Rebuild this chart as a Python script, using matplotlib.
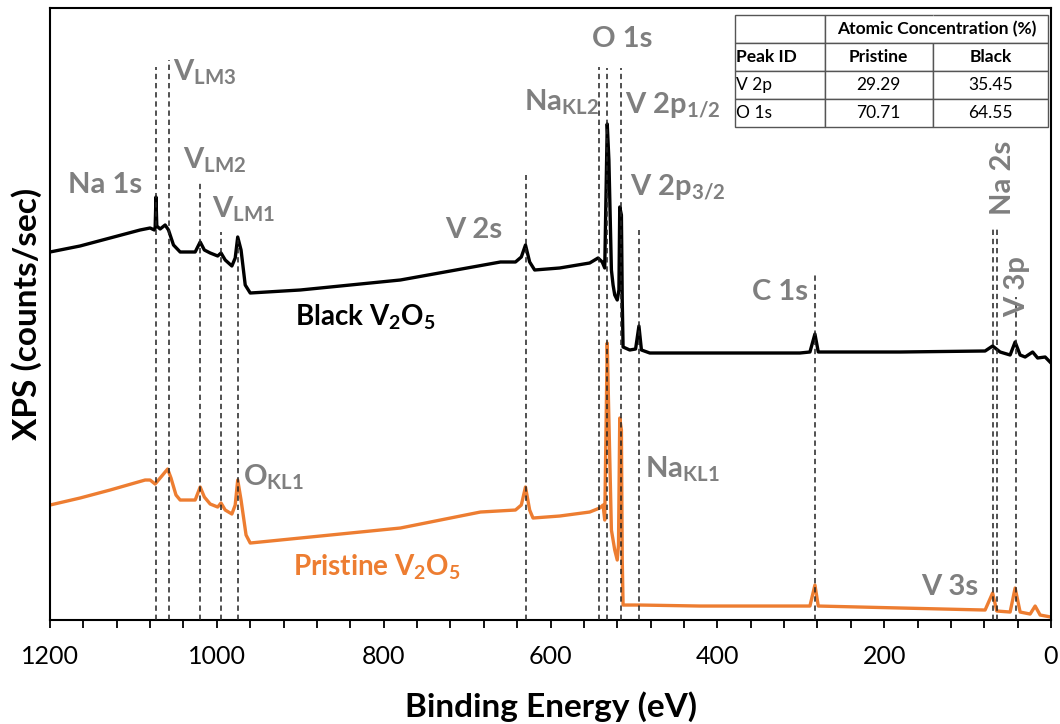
import matplotlib
matplotlib.use("Agg")
import matplotlib.pyplot as plt
from matplotlib.ticker import MultipleLocator

plt.rcParams['font.family'] = ['Lato', 'DejaVu Sans']
plt.rcParams['mathtext.fontset'] = 'custom'
plt.rcParams['mathtext.rm'] = 'Lato'

# spectra (binding energy in eV, intensity in arbitrary counts)
black_energy = [1200, 1164, 1128, 1092, 1080, 1075, 1074, 1073, 1072, 1068, 1062, 1058, 1052, 1044,
                1026, 1020, 1015, 1008, 999, 995, 990, 982, 978, 975, 971, 966, 960, 900, 780, 660,
                642, 635, 630, 625, 619, 589, 553, 543, 538, 535, 532, 530, 527, 525, 523, 520, 518,
                517, 515, 514, 513, 505, 498, 494, 491, 481, 301, 289, 283, 279, 181, 79, 70, 61, 49,
                43, 37, 31, 22, 16, 7, 0]
black_counts = [368, 374, 382, 390, 392, 390, 392, 423, 394, 391, 395, 390, 375, 368,
                368, 378, 370, 367, 364, 367, 360, 354, 362, 383, 370, 335, 327, 330, 340, 358,
                358, 363, 375, 358, 350, 352, 357, 362, 358, 352, 496, 460, 350, 335, 325, 320, 330,
                413, 405, 320, 273, 270, 271, 294, 270, 267, 267, 268, 286, 268, 268, 269, 274, 268, 265,
                278, 265, 263, 268, 262, 263, 257]

pristine_energy = [1200, 1164, 1128, 1086, 1080, 1074, 1068, 1059, 1055, 1049, 1044, 1026, 1020, 1015,
                   1008, 999, 995, 990, 982, 978, 975, 971, 965, 960, 900, 780, 684, 642, 635, 630, 625,
                   621, 589, 553, 541, 537, 535, 532, 530, 527, 525, 523, 520, 518.5, 517, 515, 514, 513,
                   493, 421, 289, 283, 279, 79, 70, 65, 49, 43, 37, 25, 19, 13, 0]
pristine_counts = [115, 122, 130, 140, 140, 136, 142, 151, 142, 125, 120, 120, 133, 123,
                   116, 113, 117, 110, 106, 115, 140, 120, 85, 77, 82, 92, 108, 110, 115, 133, 110,
                   102, 104, 108, 112, 115, 100, 277, 200, 90, 80, 70, 60, 75, 202, 190, 60, 15,
                   15, 14, 14, 35, 14, 10, 27, 9, 8, 32, 8, 6, 14, 5, 3]

# dashed peak markers: energy and how high the marker goes
peak_energy = [1073, 1057, 1020, 995, 975, 629, 542, 532, 516, 494, 283, 70, 65, 42]
peak_top = [553, 560, 437, 388, 380, 445, 553, 552, 552, 390, 347, 392, 392, 323]

table_rows = ['V 2p', 'O 1s']
pristine_pct = ['29.29', '70.71']
black_pct = ['35.45', '64.55']

gray = '#7f7f7f'
orange = '#ED7D31'

fig = plt.figure(figsize=(10.6, 7.24), dpi=100)
ax = fig.add_axes([0.0472, 0.1436, 0.9443, 0.8454])

ax.plot(pristine_energy, pristine_counts, color=orange, lw=2.4, solid_joinstyle='round')
ax.plot(black_energy, black_counts, color='black', lw=2.4, solid_joinstyle='round')
ax.vlines(peak_energy, 0, peak_top, colors='#222222', lw=1.1, linestyles=(0, (3.5, 2.5)), zorder=3)

ax.set_xlim(1200, 0)
ax.set_ylim(0, 612)
ax.set_yticks([])
ax.xaxis.set_major_locator(MultipleLocator(200))
ax.xaxis.set_minor_locator(MultipleLocator(40))
ax.tick_params(axis='x', which='both', direction='out', length=6, width=1.3, labelsize=18, pad=12)
for s in ax.spines.values():
    s.set_linewidth(1.5)

ax.set_xlabel('Binding Energy (eV)', fontsize=24, fontweight='bold', labelpad=17)
ax.set_ylabel('XPS (counts/sec)', fontsize=24, fontweight='bold', labelpad=6)

lab = dict(color=gray, fontsize=21, fontweight='bold', va='baseline', ha='left')
ax.text(1178, 427, 'Na 1s', **lab)
ax.text(1052, 540, r'V$_\mathregular{LM3}$', **lab)
ax.text(1040, 452, r'V$_\mathregular{LM2}$', **lab)
ax.text(1006, 403, r'V$_\mathregular{LM1}$', **lab)
ax.text(969, 135, r'O$_\mathregular{KL1}$', **lab)
ax.text(726, 382, 'V 2s', **lab)
ax.text(632, 510, r'Na$_\mathregular{KL2}$', **lab)
ax.text(550, 573, 'O 1s', **lab)
ax.text(511, 507, r'V 2p$_\mathregular{1/2}$', **lab)
ax.text(505, 425, r'V 2p$_\mathregular{3/2}$', **lab)
ax.text(487, 143, r'Na$_\mathregular{KL1}$', **lab)
ax.text(359, 320, 'C 1s', **lab)
ax.text(156, 25, 'V 3s', **lab)
ax.text(57, 405, 'Na 2s', color=gray, fontsize=21, fontweight='bold', rotation=90, ha='center', va='bottom')
ax.text(41, 303, 'V 3p', color=gray, fontsize=21, fontweight='bold', rotation=90, ha='center', va='bottom')

ax.text(906, 295, r'Black V$_\mathregular{2}$O$_\mathregular{5}$', color='black', fontsize=20,
        fontweight='bold', va='baseline')
ax.text(909, 45, r'Pristine V$_\mathregular{2}$O$_\mathregular{5}$', color=orange, fontsize=20,
        fontweight='bold', va='baseline')

# concentration table in the upper right corner
cells = [['', '', ''], ['Peak ID', 'Pristine', 'Black']]
for r, p, b in zip(table_rows, pristine_pct, black_pct):
    cells.append([r, p, b])
col_w = [0.2875, 0.345, 0.3675]
tb_x, tb_y, tb_w, tb_h = 0.684, 0.806, 0.313, 0.182
tbl = ax.table(cellText=cells, colWidths=col_w, bbox=[tb_x, tb_y, tb_w, tb_h], cellLoc='center')
tbl.auto_set_font_size(False)
for (row, col), cell in tbl.get_celld().items():
    cell.set_edgecolor('#555555')
    cell.set_linewidth(1.0)
    cell.get_text().set_fontsize(12.5)
    if row <= 1:
        cell.get_text().set_fontweight('bold')
    if col == 0:
        cell.get_text().set_horizontalalignment('left')
        cell.PAD = 0.02
tbl[0, 1].visible_edges = 'BTL'
tbl[0, 2].visible_edges = 'BTR'
ax.text(tb_x + tb_w * (col_w[0] + (1 - col_w[0]) / 2), tb_y + tb_h * 7 / 8, 'Atomic Concentration (%)',
        transform=ax.transAxes, ha='center', va='center', fontsize=12.5, fontweight='bold')

fig.savefig('out.png', dpi=100)
